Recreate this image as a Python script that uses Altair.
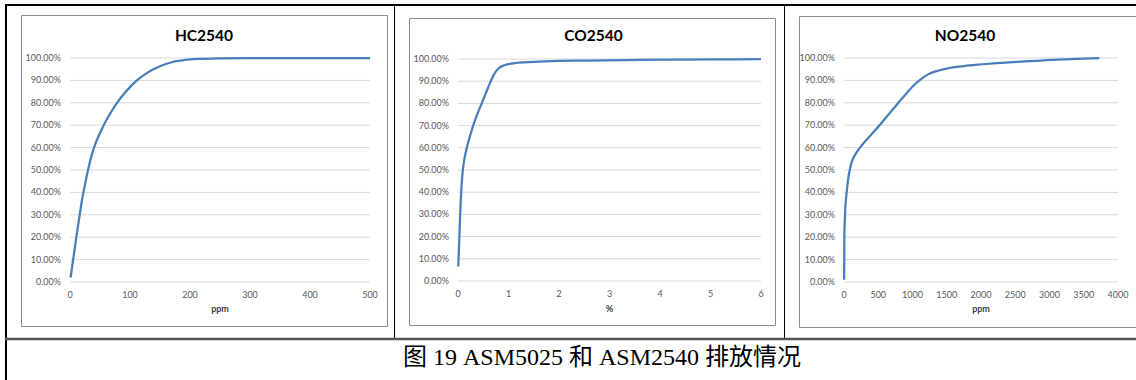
import altair as alt
import pandas as pd

# ---- data -------------------------------------------------------------
Y_TICKS = [0.0, 0.1, 0.2, 0.3, 0.4, 0.5, 0.6, 0.7, 0.8, 0.9, 1.0]

# HC2540: cumulative share of vehicles vs HC concentration (ppm)
hc_x = [1, 5, 10, 15, 20, 25, 30, 40, 50, 60, 70, 80, 90, 100, 110, 120, 130,
        140, 150, 160, 170, 180, 190, 200, 220, 250, 300, 400, 500]
hc_y = [0.02, 0.095, 0.19, 0.28, 0.365, 0.435, 0.50, 0.60, 0.665, 0.72, 0.765,
        0.805, 0.84, 0.87, 0.897, 0.918, 0.936, 0.951, 0.963, 0.973, 0.981,
        0.987, 0.991, 0.994, 0.996, 0.998, 0.999, 0.999, 0.999]
hc_ticks = [0, 100, 200, 300, 400, 500]

# CO2540: cumulative share vs CO concentration (%)
co_x = [0.005, 0.03, 0.055, 0.085, 0.12, 0.18, 0.25, 0.30, 0.40, 0.47, 0.55,
        0.63, 0.70, 0.77, 0.85, 0.92, 1.0, 1.15, 1.3, 1.6, 2.0, 2.5, 3.3, 4.0,
        5.0, 6.0]
co_y = [0.065, 0.22, 0.365, 0.475, 0.54, 0.605, 0.662, 0.70, 0.762, 0.80, 0.845,
        0.89, 0.925, 0.95, 0.965, 0.972, 0.977, 0.982, 0.985, 0.988, 0.991,
        0.993, 0.995, 0.997, 0.998, 0.999]
co_ticks = [0, 1, 2, 3, 4, 5, 6]

# NO2540: cumulative share vs NO concentration (ppm)
no_x = [2, 5, 15, 39, 63, 88, 112, 170, 234, 300, 380, 450, 525, 620, 720, 815,
        915, 1010, 1110, 1180, 1255, 1370, 1500, 1750, 1985, 2230, 2470, 2720,
        2960, 3250, 3500, 3727]
no_y = [0.01, 0.20, 0.30, 0.40, 0.465, 0.505, 0.535, 0.572, 0.60, 0.625, 0.652,
        0.676, 0.702, 0.737, 0.773, 0.808, 0.843, 0.875, 0.902, 0.918, 0.931,
        0.943, 0.953, 0.964, 0.971, 0.977, 0.982, 0.986, 0.99, 0.994, 0.997,
        0.999]
no_ticks = [0, 500, 1000, 1500, 2000, 2500, 3000, 3500, 4000]

CAPTION = "图 19 ASM5025 和 ASM2540 排放情况"

# ---- style ------------------------------------------------------------
W, H = 1136, 380
LINE_COLOR = "#4a7ebb"
GRID_COLOR = "#d9d9d9"
BOX_COLOR = "#8c8c8c"
LABEL_COLOR = "#595959"
FONT = "Lato"


def panel(xs, ys, title, xdom, xticks, xrange, yrange, xtitle):
    xscale = alt.Scale(domain=xdom, range=xrange, nice=False, zero=False)
    yscale = alt.Scale(domain=[0, 1], range=yrange, nice=False)
    x_lo = alt.X(datum=xdom[0], scale=xscale, axis=None)
    y_lo = alt.Y(datum=0, scale=yscale, axis=None)

    # horizontal gridlines at every 10 %
    grid = alt.Chart(pd.DataFrame({"g": Y_TICKS})).mark_rule(
        color=GRID_COLOR, strokeWidth=1
    ).encode(
        y=alt.Y("g:Q", scale=yscale, axis=None),
        x=x_lo,
        x2=alt.X2(datum=xdom[1]),
    )

    # percentage labels on the left of the plot
    ylabels = alt.Chart(pd.DataFrame({"g": Y_TICKS})).mark_text(
        align="right", baseline="middle", dx=-9,
        font=FONT, fontSize=9, color=LABEL_COLOR
    ).encode(
        y=alt.Y("g:Q", scale=yscale, axis=None),
        x=x_lo,
        text=alt.Text("g:Q", format=".2%"),
    )

    # value labels under the plot
    xlabels = alt.Chart(pd.DataFrame({"t": xticks})).mark_text(
        align="center", baseline="middle", dy=12.5,
        font=FONT, fontSize=9, color=LABEL_COLOR
    ).encode(
        x=alt.X("t:Q", scale=xscale, axis=None),
        y=y_lo,
        text=alt.Text("t:Q", format="d"),
    )

    line = alt.Chart(pd.DataFrame({"x": xs, "y": ys})).mark_line(
        color=LINE_COLOR, strokeWidth=2.25, interpolate="monotone"
    ).encode(
        x=alt.X("x:Q", scale=xscale, axis=None),
        y=alt.Y("y:Q", scale=yscale, axis=None),
        order="x:Q",
    )

    mid = (xrange[0] + xrange[1]) / 2
    xname = alt.Chart().mark_text(
        text=xtitle, font=FONT, fontSize=9, fontWeight="bold",
        color="#404040", align="center", baseline="middle"
    ).encode(x=alt.value(mid), y=alt.value(309))

    head = alt.Chart().mark_text(
        text=title, font=FONT, fontSize=15.5, fontWeight="bold",
        color="black", align="center", baseline="middle"
    ).encode(x=alt.value(mid - 16), y=alt.value(36))

    return alt.layer(grid, line, ylabels, xlabels, xname, head)


def box(x0, x1, y0, y1):
    return alt.Chart().mark_rect(
        fill="white", stroke=BOX_COLOR, strokeWidth=1
    ).encode(x=alt.value(x0), x2=alt.value(x1), y=alt.value(y0), y2=alt.value(y1))


def hline(y, x0, x1, color, width):
    return alt.Chart().mark_rule(color=color, strokeWidth=width).encode(
        y=alt.value(y), x=alt.value(x0), x2=alt.value(x1))


def vline(x, y0, y1, color, width):
    return alt.Chart().mark_rule(color=color, strokeWidth=width).encode(
        x=alt.value(x), y=alt.value(y0), y2=alt.value(y1))


frames = [
    box(21.5, 387.5, 15.5, 326.5),
    box(409.5, 775.5, 18.5, 325.5),
    box(799.5, 1150, 16.5, 327.5),
    hline(5, 5, W, "black", 2),
    vline(6, 4, H, "black", 2),
    vline(394.5, 5, 339, "black", 1),
    vline(784.5, 5, 339, "black", 1),
    hline(339, 5, W, "#555555", 2.5),
]

caption = alt.Chart().mark_text(
    text=CAPTION, font="Liberation Serif, Noto Sans CJK SC", fontSize=24,
    color="black", align="center", baseline="alphabetic"
).encode(x=alt.value(602), y=alt.value(365))

p1 = panel(hc_x, hc_y, "HC2540", [0, 500], hc_ticks, [70, 370], [282, 58], "ppm")
p2 = panel(co_x, co_y, "CO2540", [0, 6], co_ticks, [458, 761], [281, 59], "%")
p3 = panel(no_x, no_y, "NO2540", [0, 4000], no_ticks, [844, 1118], [282, 58], "ppm")

chart = alt.layer(*frames, p1, p2, p3, caption).resolve_scale(
    x="independent", y="independent"
).properties(
    width=W, height=H, padding=0, autosize="none", background="white"
).configure_view(stroke=None)

chart.save("out.html", embed_options={"renderer": "svg", "actions": False})
